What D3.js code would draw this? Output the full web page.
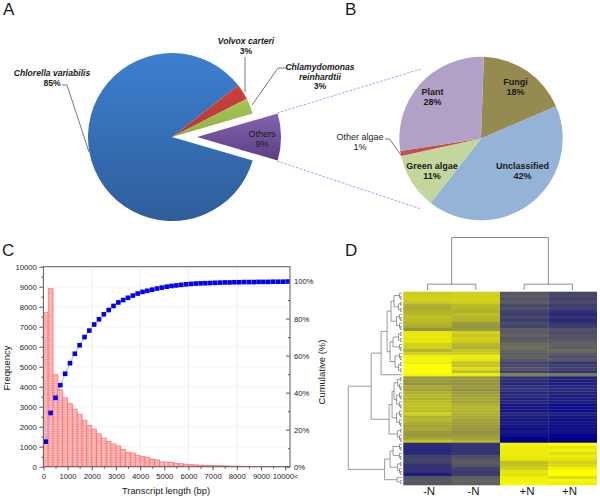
<!DOCTYPE html>
<html><head><meta charset="utf-8">
<script src="https://cdnjs.cloudflare.com/ajax/libs/d3/7.8.5/d3.min.js"></script>
<style>
html,body{margin:0;padding:0;background:#fff}
svg{display:block}
text{font-family:"Liberation Sans",Arial,sans-serif;fill:#1a1a1a}
</style></head><body><svg id="c" width="600" height="499"></svg>
<script>
// Panel A
const pieALabels=["Chlorella variabilis","Volvox carteri","Chlamydomonas reinhardtii","Others"];
const pieAValues=[85,3,3,9];
// Panel B
const pieBLabels=["Fungi","Unclassified","Green algae","Other algae","Plant"];
const pieBValues=[18,42,11,1,28];
// Panel C
const freq=[7700,8900,4600,3850,3450,3150,2880,2620,2330,2060,1880,1640,1430,1270,1140,1040,870,730,680,570,520,480,380,340,240,230,220,170,150,130,110,90,80,70,60,50,45,40,35,30,30,25,20,20,15,15,10,10,10,10,10];
const cumulative=[13.5,29,37.2,44,50.2,55.9,61,65.6,70,73.5,76.8,79.6,82.3,84.6,86.8,88.7,90,91.2,92.4,93.5,94.4,95,95.6,96.2,96.7,97.2,97.6,97.9,98.2,98.5,98.7,98.9,99,99.1,99.2,99.3,99.4,99.5,99.5,99.6,99.6,99.7,99.7,99.7,99.8,99.8,99.8,99.9,99.9,99.9,100];
const freqTicks=[0,1000,2000,3000,4000,5000,6000,7000,8000,9000,10000];
const lengthTicks=[0,1000,2000,3000,4000,5000,6000,7000,8000,9000,10000];
const cumTicks=[0,20,40,60,80,100];
// Panel D
const heatCols=["-N","-N ","+N","+N "];
const hm1=[.68,.7,.7,.66,.5,.48,.52,.55,.62,.58,.52,.48,.32,.85,.86,.84,.85,.72,.7,.55,.72,.92,.95,.9,1,1,1,.95,
 .38,.35,.33,.45,.42,.5,.55,.52,.58,.62,.6,.58,.72,.5,.55,.48,.42,.45,.38,.35,.42,.62,
 -.55,-.55,-.58,-.55,-.3,-.28,-.3,-.5,-.48,-.5,-.72,-.1,-.08,-.1];
const hm2=[.72,.7,.74,.7,.58,.55,.5,.58,.55,.52,.38,.34,.36,.72,.65,.72,.68,.55,.5,.62,.7,.9,.85,.65,.62,.8,.6,.9,
 .36,.34,.33,.35,.32,.38,.4,.45,.42,.5,.55,.52,.5,.48,.42,.4,.38,.36,.32,.35,.4,.55,
 -.45,-.5,-.45,-.45,-.2,-.1,-.05,-.1,-.3,-.4,-.4,-.02,.02,0];
const hm3=[-.12,-.05,-.15,-.05,-.25,-.15,-.3,-.35,-.25,-.35,-.2,-.3,-.05,-.05,.02,-.08,-.02,.05,.08,.02,-.05,0,-.1,-.3,-.25,-.15,-.35,.2,
 -.5,-.55,-.6,-.5,-.45,-.6,-.55,-.65,-.6,-.75,-.8,-.75,-.6,-.7,-.75,-.7,-.8,-.85,-.8,-.9,-.95,-.95,
 .92,.9,.88,.9,.88,.85,.6,.62,.7,.85,.82,.9,.92,.95];
const hm4=[-.3,-.25,-.3,-.2,-.35,-.3,-.5,-.55,-.45,-.55,-.45,-.35,-.15,-.2,-.1,-.15,-.05,0,-.05,.05,-.05,-.2,-.1,-.45,-.35,-.3,-.5,.15,
 -.65,-.7,-.7,-.6,-.55,-.65,-.7,-.72,-.7,-.85,-.9,-.85,-.65,-.8,-.85,-.8,-.85,-.9,-.85,-.95,-1,-1,
 1,.85,.92,.8,.9,.82,.72,.78,.9,1,1,.8,.95,.9];
// Row dendrogram: [merge height, child, child]; 1 is a single row
const T2=[1.5,1,1],T3=[2.5,1,T2],T4=[3.5,T2,T2],T5=[4.5,T2,T3],T6=[5.5,T3,T3];
const rowTree=[54,
 [31,
  [21,[15,[11,[8,T3,T4],T6],[12,[9,T4,T3],[7,T3,T4]]],1],
  [13,[10,[8,T5,T6],T6],T5]],
 [17.5,[12,[9,T3,T3],T5],[5,1,T2]]];
// Column dendrogram heights
const colTree=[54,[6,0,1],[6,2,3]];

const svg=d3.select("#c");
const defs=svg.append("defs");
function grad(id,a,b,y1,y2){const g=defs.append("linearGradient").attr("id",id).attr("gradientUnits","userSpaceOnUse")
 .attr("x1",0).attr("x2",0).attr("y1",y1).attr("y2",y2);
 g.append("stop").attr("offset",0).attr("stop-color",a);g.append("stop").attr("offset",1).attr("stop-color",b);}
grad("gBlue","#3d7fd0","#2e5e99",-84,84);
grad("gRed","#d0403c","#b83a36",-60,0);
grad("gGreen","#a6c95a","#8fb045",-40,0);
grad("gPurple","#8565b2","#5a3d80",-25,25);
const pat=defs.append("pattern").attr("id","hatch").attr("width",2.4).attr("height",2.4).attr("patternUnits","userSpaceOnUse");
pat.append("rect").attr("width",2.4).attr("height",2.4).attr("fill","#ffa4a4");
pat.append("rect").attr("width",1.1).attr("height",1.1).attr("fill","#ffeaea");
defs.append("filter").attr("id","soft").attr("x","-2%").attr("y","-2%").attr("width","104%").attr("height","104%")
 .append("feGaussianBlur").attr("stdDeviation",.45);

function multi(x,y,lines,o={}){const t=svg.append("text").attr("x",x).attr("y",y).attr("text-anchor",o.anchor||"middle")
 .attr("font-size",o.size||9).attr("font-weight",o.weight||"bold");
 lines.forEach((l,i)=>t.append("tspan").attr("x",x).attr("dy",i?(o.lh||9.6):0).attr("font-style",(o.ital&&i<o.ital)?"italic":"normal").text(l));}
function letter(s,x,y){svg.append("text").attr("x",x).attr("y",y).attr("font-size",17).attr("fill","#111").text(s);}
letter("A",3,15);letter("B",345,15);letter("C",2,256);letter("D",345,256);

/* ---------- Panel A ---------- */
const deg=Math.PI/180;
const pieA=d3.pie().sort(null).startAngle(106.2*deg).endAngle(466.2*deg)(pieAValues);
const arcA=d3.arc().innerRadius(0).outerRadius(84);
const fillsA=["url(#gBlue)","url(#gRed)","url(#gGreen)","url(#gPurple)"];
const gA=svg.append("g").attr("transform","translate(172,137)");
gA.selectAll("path").data(pieA).join("path").attr("d",arcA).attr("fill",(d,i)=>fillsA[i])
 .attr("transform",(d,i)=>i===3?"translate(25,0)":null);
const leader=d=>svg.append("path").attr("d",d).attr("fill","none").attr("stroke","#555").attr("stroke-width",.8);
leader("M62 85L67 85L89 152");leader("M245 57L245 92");leader("M286 68L278 68L252 105");
svg.append("path").attr("d","M277 113L421 69M277 161L421 209").attr("fill","none").attr("stroke","#b98ae0").attr("stroke-width",.9).attr("stroke-dasharray","2.5 1.5");
multi(52,76,[pieALabels[0],pieAValues[0]+"%"],{ital:1,size:8.6,weight:"bold"});
multi(246,44,[pieALabels[1],pieAValues[1]+"%"],{ital:1,size:8.6});
multi(320,70,["Chlamydomonas","reinhardtii",pieAValues[2]+"%"],{ital:2,size:8.6});
multi(262,137,[pieALabels[3],pieAValues[3]+"%"],{size:9,weight:"normal"});

/* ---------- Panel B ---------- */
const pieB=d3.pie().sort(null).startAngle(2*deg).endAngle(362*deg)(pieBValues);
const arcB=d3.arc().innerRadius(0).outerRadius(81.7);
const fillsB=["#958b50","#95b3d7","#c3d69b","#c0504d","#b2a1c7"];
svg.append("g").attr("transform","translate(481,138.5)").selectAll("path").data(pieB).join("path").attr("d",arcB).attr("fill",(d,i)=>fillsB[i]);
leader("M385 139L389.5 139L401 155");
multi(515.5,85,[pieBLabels[0],pieBValues[0]+"%"]);
multi(522.5,169,[pieBLabels[1],pieBValues[1]+"%"]);
multi(432,169,[pieBLabels[2],pieBValues[2]+"%"]);
multi(360,140,[pieBLabels[3],pieBValues[3]+"%"],{weight:"normal"});
multi(432.5,95,[pieBLabels[4],pieBValues[4]+"%"]);

/* ---------- Panel C ---------- */
const x=d3.scaleLinear().domain([0,10200]).range([43.4,290]);
const y=d3.scaleLinear().domain([0,10000]).range([466.7,266.7]);
const yR=d3.scaleLinear().domain([0,108]).range([466.7,266.7]);
const gC=svg.append("g");
gC.selectAll("line.h").data(freqTicks.slice(1,-1)).join("line").attr("x1",x(0)).attr("x2",x(10200)).attr("y1",d=>y(d)).attr("y2",d=>y(d)).attr("stroke","#f0f0f0").attr("stroke-width",.8);
gC.selectAll("line.v").data(lengthTicks.filter(d=>d&&d%2000===0&&d<10000)).join("line").attr("y1",y(0)).attr("y2",y(10000)).attr("x1",d=>x(d)).attr("x2",d=>x(d)).attr("stroke","#ececec").attr("stroke-width",.8);
gC.selectAll("rect").data(freq).join("rect").attr("x",(d,i)=>x(i*200)).attr("width",x(200)-x(0)).attr("y",d=>y(d)).attr("height",d=>y(0)-y(d))
 .attr("fill","url(#hatch)").attr("stroke","#ff6a6a").attr("stroke-width",.7);
const mid=(d,i)=>x(i*200+100);
gC.append("path").attr("d",d3.line().x((d,i)=>mid(d,i)).y(d=>yR(d))(cumulative)).attr("fill","none").attr("stroke","#a8a8ff").attr("stroke-width",1);
gC.selectAll("rect.p").data(cumulative).join(enter=>enter.append("rect").attr("class","p")).attr("x",(d,i)=>mid(d,i)-2.3).attr("y",d=>yR(d)-2.3).attr("width",4.6).attr("height",4.6).attr("fill","#0000f5");

function styleAxis(g){g.select(".domain").remove();g.selectAll("line").attr("stroke","#444").attr("stroke-width",.9);g.selectAll("text").attr("font-size",7.7).attr("fill","#222");}
const minorY=d3.range(500,10000,1000), minorX=d3.range(500,10000,1000), minorR=d3.range(10,100,20);
gC.append("g").attr("transform","translate(43.4,0)").call(d3.axisLeft(y).tickValues(minorY).tickSize(2).tickFormat("")).call(styleAxis);
gC.append("g").attr("transform","translate(43.4,0)").call(d3.axisLeft(y).tickValues(freqTicks).tickSize(4).tickPadding(2.5).tickFormat(d3.format("d"))).call(styleAxis);
gC.append("g").attr("transform","translate(0,466.7)").call(d3.axisBottom(x).tickValues(minorX).tickSize(2).tickFormat("")).call(styleAxis);
gC.append("g").attr("transform","translate(0,466.7)").call(d3.axisBottom(x).tickValues(lengthTicks).tickSize(3.5).tickPadding(3).tickFormat(d=>d===10000?"10000<":d)).call(styleAxis);
gC.append("g").attr("transform","translate(290,0)").call(d3.axisRight(yR).tickValues(minorR).tickSize(-2).tickFormat("")).call(styleAxis);
gC.append("g").attr("transform","translate(290,0)").call(d3.axisRight(yR).tickValues(cumTicks).tickSize(-4).tickPadding(4).tickFormat(d=>d+"%")).call(styleAxis);
gC.append("rect").attr("x",43.4).attr("y",266.7).attr("width",246.6).attr("height",200).attr("fill","none").attr("stroke","#666").attr("stroke-width",1.1);
svg.append("text").attr("x",166).attr("y",494).attr("text-anchor","middle").attr("font-size",9.3).text("Transcript length (bp)");
svg.append("text").attr("transform","translate(10,368) rotate(-90)").attr("text-anchor","middle").attr("font-size",9.5).text("Frequency");
svg.append("text").attr("transform","translate(325,372) rotate(-90)").attr("text-anchor","middle").attr("font-size",9.5).text("Cumulative (%)");

/* ---------- Panel D ---------- */
const matrix=[hm1,hm2,hm3,hm4];
const xH=d3.scaleBand().domain(heatCols).range([403.3,596.7]);
const yH=d3.scaleBand().domain(d3.range(hm1.length)).range([291.7,485]);
const col=d3.scaleLinear().domain([-1,0,1]).range(["#00008c","#606060","#ffff00"]);
const gD=svg.append("g");
const cells=gD.append("g").attr("filter","url(#soft)");
matrix.forEach((c,j)=>cells.append("g").selectAll("rect").data(c).join("rect")
 .attr("x",xH(heatCols[j])).attr("width",xH.bandwidth()+.3).attr("y",(d,i)=>yH(i)).attr("height",yH.bandwidth()+.3).attr("fill",d=>col(d)));
["-N","-N","+N","+N"].forEach((s,j)=>gD.append("text").attr("x",[429,473.5,527,569.5][j]).attr("y",495).attr("text-anchor","middle").attr("font-size",11.5).text(s));
// row dendrogram
const hx=d3.scaleLinear().domain([0,54]).range([402,348.3]);
let leaf=0;const segs=[];
function walk(n){ if(n===1){const yy=yH(leaf)+yH.bandwidth()/2;leaf++;return {x:hx(0),y:yy};}
 const a=walk(n[1]),b=walk(n[2]),xx=hx(n[0]);
 segs.push(`M${a.x} ${a.y}H${xx}V${b.y}H${b.x}`);return {x:xx,y:(a.y+b.y)/2};}
walk(rowTree);
gD.append("path").attr("d",segs.join("")).attr("fill","none").attr("stroke","#808080").attr("stroke-width",.8);
// column dendrogram
const cx=j=>xH(heatCols[j])+xH.bandwidth()/2;
const vy=d3.scaleLinear().domain([0,54]).range([290,237.5]);
function colBr(n){const a=cx(n[1]),b=cx(n[2]),yy=vy(n[0]);return {d:`M${a} ${vy(0)}V${yy}H${b}V${vy(0)}`,x:(a+b)/2,y:yy};}
const L=colBr(colTree[1]),R=colBr(colTree[2]);
gD.append("path").attr("d",L.d+R.d+`M${L.x} ${L.y}V${vy(colTree[0])}H${R.x}V${R.y}`).attr("fill","none").attr("stroke","#808080").attr("stroke-width",.9);
</script></body></html>
